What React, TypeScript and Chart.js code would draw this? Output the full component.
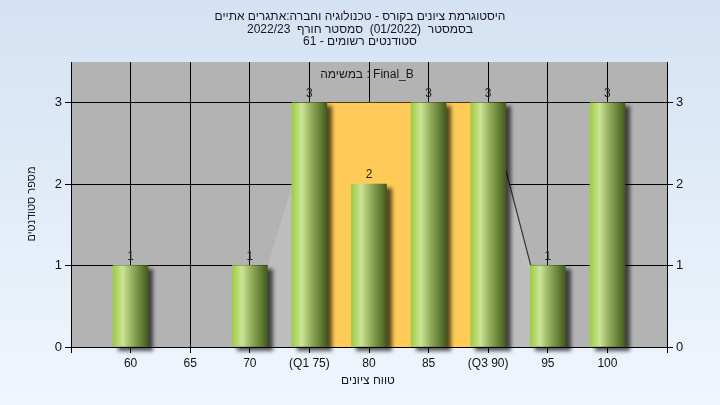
import React, { useEffect, useRef } from 'react';
import { Chart, registerables } from 'chart.js';

Chart.register(...registerables);

const titleLines = [
  'היסטוגרמת ציונים בקורס - טכנולוגיה וחברה:אתגרים אתיים',
  'בסמסטר  (01/2022)  סמסטר חורף  2022/23',
  'סטודנטים רשומים - 61',
];
const legendText = 'במשימה : Final_B';
const xTitle = 'טווח ציונים';
const yTitle = 'מספר סטודנטים';

const categories = ['', '60', '65', '70', '(Q1 75)', '80', '85', '(Q3 90)', '95', '100', ''];
const counts = [null, 1, 0, 1, 3, 2, 3, 3, 1, 3, null];
const curve = [null, null, null, 0.27, 2.7, 2.9, 2.9, 3.0, 0.2, null, null];
const q1Index = 4;
const q3Index = 7;
const bandHeight = 3;
const yMin = 0;
const yMax = 3.5;

const FONT = '"Liberation Sans", Arial, sans-serif';
const TEXT = '#1b1420';

const BAR_W = 35;

const customPlugin = {
  id: 'custom',
  beforeDraw(chart: any) {
    const { ctx, chartArea } = chart;
    ctx.save();
    ctx.fillStyle = '#b3b3b3';
    ctx.fillRect(chartArea.left, chartArea.top, chartArea.right - chartArea.left, chartArea.bottom - chartArea.top);
    ctx.restore();
  },
  beforeDatasetDraw(chart: any, args: any) {
    if (args.index !== 1) return;
    const { ctx } = chart;
    const xs = chart.scales.x;
    const ys = chart.scales.y;
    ctx.save();
    ctx.fillStyle = '#ffcb58';
    const x0 = xs.getPixelForValue(q1Index);
    const x1 = xs.getPixelForValue(q3Index);
    const y0 = ys.getPixelForValue(bandHeight);
    const y1 = ys.getPixelForValue(0);
    ctx.fillRect(x0, y0, x1 - x0, y1 - y0);
    ctx.restore();
    ctx.save();
    ctx.shadowColor = 'rgba(0,0,0,0.65)';
    ctx.shadowBlur = 4;
    ctx.shadowOffsetX = 5;
    ctx.shadowOffsetY = 4;
  },
  afterDatasetDraw(chart: any, args: any) {
    if (args.index !== 1) return;
    chart.ctx.restore();
  },
  afterDatasetsDraw(chart: any) {
    const { ctx } = chart;
    const meta = chart.getDatasetMeta(1);
    ctx.save();
    ctx.font = '12px ' + FONT;
    ctx.fillStyle = '#222';
    ctx.textAlign = 'center';
    ctx.textBaseline = 'alphabetic';
    meta.data.forEach((el: any, i: number) => {
      const v = counts[i];
      if (v == null || v === 0) return;
      ctx.fillText(String(v), el.x, el.y - 6);
    });
    ctx.restore();
  },
  afterDraw(chart: any) {
    const { ctx } = chart;
    ctx.save();
    ctx.fillStyle = TEXT;
    ctx.font = '12px ' + FONT;
    ctx.textAlign = 'center';
    ctx.textBaseline = 'middle';
    ctx.direction = 'rtl';
    titleLines.forEach((t, i) => ctx.fillText(t, 360, 17 + i * 12.5));
    ctx.direction = 'ltr';
    ctx.fillText(legendText, 367, 75);
    ctx.direction = 'rtl';
    ctx.fillText(xTitle, 368, 381);
    ctx.translate(32, 204);
    ctx.rotate(-Math.PI / 2);
    ctx.font = '11px ' + FONT;
    ctx.fillText(yTitle, 0, 0);
    ctx.restore();
  },
};

export default function App() {
  const ref = useRef<HTMLCanvasElement | null>(null);

  useEffect(() => {
    if (!ref.current) return;
    const tickFont = { family: FONT, size: 12 };
    const chart = new Chart(ref.current, {
      type: 'bar',
      data: {
        labels: categories,
        datasets: [
          {
            type: 'line',
            label: 'curve',
            data: curve,
            order: 2,
            fill: 'origin',
            spanGaps: false,
            backgroundColor: '#bdbdbd',
            borderColor: 'rgba(0,0,0,0)',
            borderWidth: 1.2,
            pointRadius: 0,
            tension: 0,
            segment: {
              borderColor: (c: any) => (c.p0DataIndex === q3Index ? '#333333' : 'rgba(0,0,0,0)'),
            },
          } as any,
          {
            type: 'bar',
            label: 'Final_B',
            data: counts,
            order: 1,
            barThickness: BAR_W,
            borderWidth: 0,
            clip: false as any,
            backgroundColor: (c: any) => {
              if (c.type === 'data' && !c.raw) return 'rgba(0,0,0,0)';
              const xs = c.chart.scales?.x;
              if (!xs || c.type !== 'data') return '#9cc843';
              const cx = xs.getPixelForValue(c.dataIndex);
              if (!Number.isFinite(cx)) return '#9cc843';
              const g = c.chart.ctx.createLinearGradient(cx - BAR_W / 2, 0, cx + BAR_W / 2, 0);
              g.addColorStop(0, '#9ecb45');
              g.addColorStop(0.28, '#cbe596');
              g.addColorStop(0.55, '#93ad5c');
              g.addColorStop(0.85, '#5d7830');
              g.addColorStop(1, '#435a1d');
              return g;
            },
          } as any,
        ],
      },
      options: {
        animation: false,
        responsive: false,
        devicePixelRatio: 1,
        layout: { padding: { top: 62, left: 0, right: 0, bottom: 0 } },
        plugins: {
          legend: { display: false },
          tooltip: { enabled: false },
          title: { display: false },
        },
        scales: {
          x: {
            type: 'category',
            offset: false,
            grid: { offset: false, color: '#000', lineWidth: 1, drawTicks: true, tickLength: 6, tickColor: '#000' },
            border: { color: '#000', width: 1 },
            ticks: { color: '#111', font: tickFont, padding: 3, maxRotation: 0, autoSkip: false },
            afterFit: (s: any) => { s.height = 58; },
          },
          y: {
            position: 'left',
            min: yMin,
            max: yMax,
            grid: { color: '#000', lineWidth: 1, tickLength: 6, tickColor: '#000' },
            border: { color: '#000', width: 1 },
            ticks: { stepSize: 1, color: '#111', font: { family: FONT, size: 13 }, padding: 3 },
            afterBuildTicks: (s: any) => { s.ticks = s.ticks.filter((t: any) => Number.isInteger(t.value)); },
            afterFit: (s: any) => { s.width = 71; },
          },
          y2: {
            position: 'right',
            min: yMin,
            max: yMax,
            grid: { drawOnChartArea: false, color: '#000', tickLength: 6, tickColor: '#000' },
            border: { color: '#000', width: 1 },
            ticks: { stepSize: 1, color: '#111', font: { family: FONT, size: 13 }, padding: 3 },
            afterBuildTicks: (s: any) => { s.ticks = s.ticks.filter((t: any) => Number.isInteger(t.value)); },
            afterFit: (s: any) => { s.width = 53; },
          },
        },
      } as any,
      plugins: [customPlugin],
    });
    return () => chart.destroy();
  }, []);

  return (
    <div
      style={{
        position: 'fixed',
        left: 0,
        top: 0,
        width: 720,
        height: 405,
        background: 'linear-gradient(to bottom, #d4e2f3, #f0f6fd)',
      }}
    >
      <canvas ref={ref} width={720} height={405} style={{ display: 'block' }} />
    </div>
  );
}
